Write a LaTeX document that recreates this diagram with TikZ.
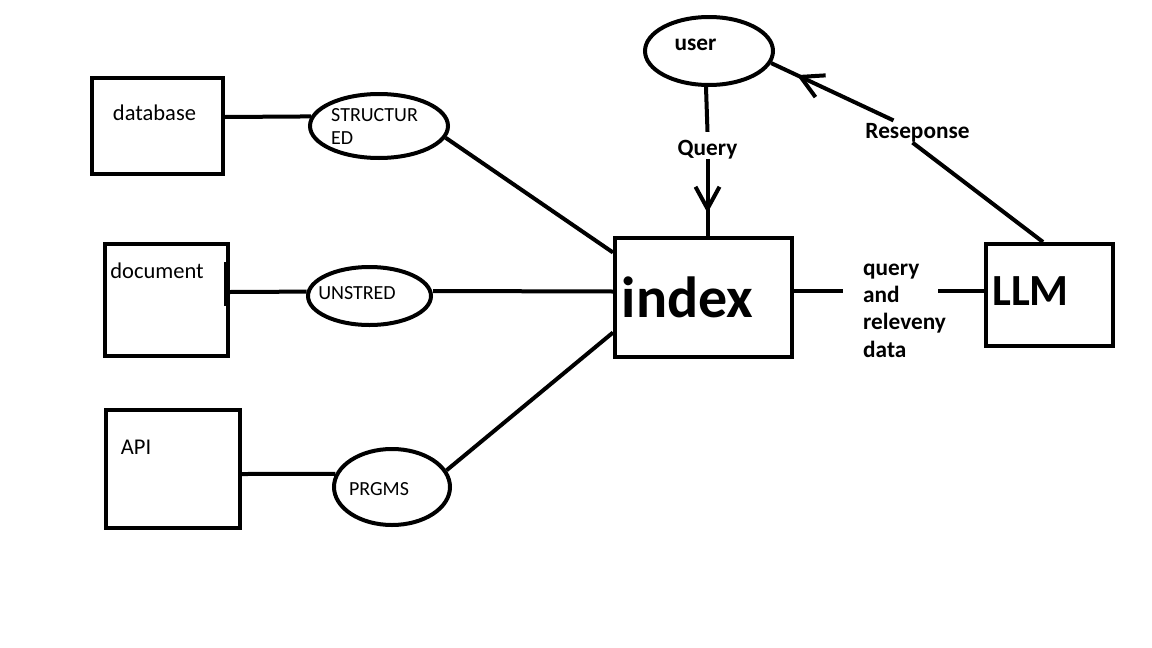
\documentclass[tikz,border=0pt]{standalone}
\usepackage{fontspec}
\setmainfont{Carlito}
\usetikzlibrary{shapes.geometric,arrows.meta,decorations.markings}
\begin{document}
\begin{tikzpicture}[x=1pt,y=-1pt,
  box/.style={draw, line width=4pt, rectangle, inner sep=0pt},
  oval/.style={draw, line width=4pt, ellipse, inner sep=0pt},
  conn/.style={line width=4pt},
  lbl/.style={inner sep=0pt, font=\fontsize{22.5}{26}\selectfont},
  small/.style={inner sep=0pt, font=\fontsize{20}{23}\selectfont, align=left},
  blbl/.style={inner sep=0pt, font=\bfseries\fontsize{23.3}{27.3}\selectfont, align=left},
  midarrow/.style={postaction={decorate, decoration={markings,
      mark=at position #1 with {\arrow{Straight Barb[length=22pt,width=24pt]}}}}},
]
\useasboundingbox[fill=white] (0,0) rectangle (1152,648);

% boxes
\node[box, minimum width=131pt, minimum height=96pt] (db) at (157.5,126) {};
\node[box, minimum width=123pt, minimum height=112pt] (doc) at (166.5,300) {};
\node[box, minimum width=134pt, minimum height=118pt] (api) at (173,469) {};
\node[box, minimum width=177pt, minimum height=119pt] (index) at (703.5,297.5) {};
\node[box, minimum width=127pt, minimum height=102pt] (llm) at (1049,295) {};

% ellipses
\node[oval, minimum width=138pt, minimum height=64pt] (s) at (379,126) {};
\node[oval, minimum width=123pt, minimum height=58pt] (u) at (369.5,296) {};
\node[oval, minimum width=116pt, minimum height=76pt] (p) at (392,487) {};
\node[oval, minimum width=128pt, minimum height=68pt] (user) at (709,51) {};

% labels
\node[lbl] (tdb) at (154.5,113) {database};
\node[lbl] (tdoc) at (157,270.5) {document};
\node[lbl] (tapi) at (136,447) {API};
\node[small, anchor=west] (ts) at (331,126.5) {STRUCTUR\\ED};
\node[small] (tu) at (357,293.5) {UNSTRED};
\node[small] (tp) at (379,489) {PRGMS};
\node[blbl] (tuser) at (695.5,45) {user};
\node[inner sep=0pt, font=\bfseries\fontsize{58}{60}\selectfont] (tindex) at (687.5,297) {index};
\node[inner sep=0pt, font=\bfseries\fontsize{44.5}{48}\selectfont] (tllm) at (1030.5,291) {LLM};
\node[blbl] (query) at (707.5,149.5) {Query};
\node[blbl] (resp) at (917.5,133) {Reseponse};
\node[blbl, anchor=north west] (qrd) at (863,263.5) {query\\and\\releveny\\data};

% connectors
\draw[conn] ([yshift=9pt]db.east) -- (s.172);
\draw[conn] (s.-10) -- ([yshift=45pt]index.west);
\draw[conn] ([yshift=8pt]doc.east) -- (u.176);
\draw[line width=6pt] ([xshift=-3pt,yshift=38pt]doc.east) -- ([xshift=-3pt,yshift=-6pt]doc.east);
\draw[conn] ([yshift=5pt]u.east) -- ([yshift=6pt]index.west);
\draw[conn] ([yshift=-5pt]api.east) -- (p.167);
\draw[conn] (p.17) -- ([yshift=-35pt]index.west);
\draw[conn] ([yshift=6.5pt]index.east) -- ([xshift=-20pt,yshift=-27.5pt]qrd.north west);
\draw[conn] ([xshift=75pt,yshift=-27.5pt]qrd.north west) -- ([yshift=4pt]llm.west);
\draw[conn] ([xshift=-3pt]user.south) -- ([yshift=8pt]query.north);
\draw[conn, midarrow=0.7] (query.south) -- ([xshift=4pt]index.north);
\draw[conn] ([xshift=-6pt]llm.north) -- ([xshift=-5pt]resp.south);
\draw[conn, midarrow=0.79] ([xshift=-24pt,yshift=3pt]resp.north) -- (user.-11);
\end{tikzpicture}
\end{document}
